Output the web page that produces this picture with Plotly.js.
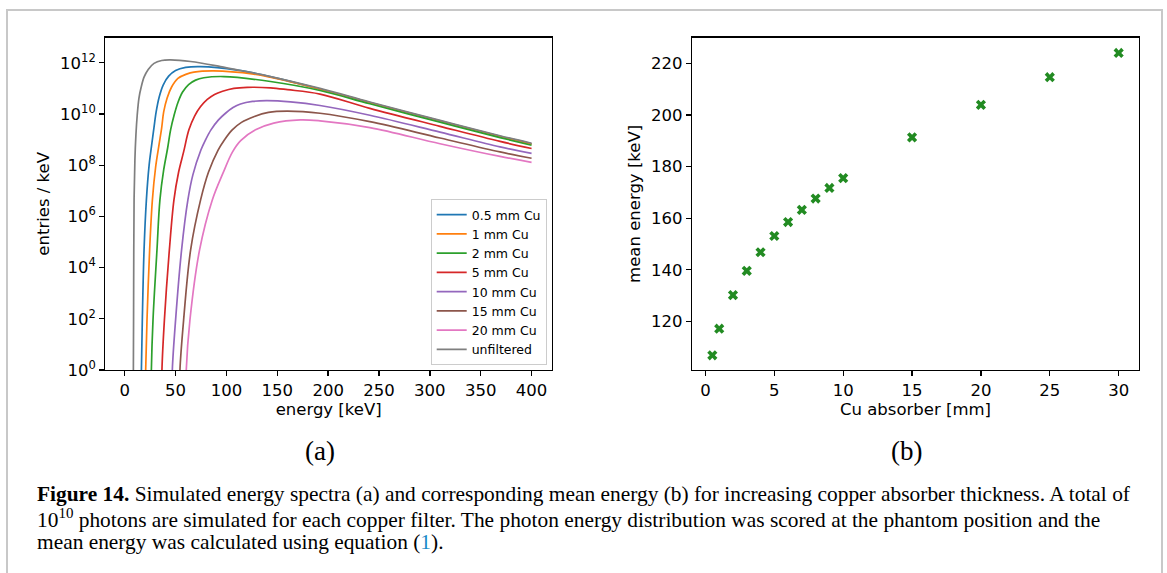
<!DOCTYPE html>
<html>
<head>
<meta charset="utf-8">
<script src="https://cdn.plot.ly/plotly-3.0.1.min.js"></script>
<style>
  html, body { margin: 0; padding: 0; background: #ffffff; }
  #chart { width: 1167px; height: 573px; }
</style>
</head>
<body>
<div id="chart"></div>
<script>
// ---------- Panel (a): simulated spectra (entries / keV vs energy [keV]) ----------
const seriesNames = ['0.5 mm Cu', '1 mm Cu', '2 mm Cu', '5 mm Cu', '10 mm Cu', '15 mm Cu', '20 mm Cu', 'unfiltered'];
const seriesColors = ['#1f77b4', '#ff7f0e', '#2ca02c', '#d62728', '#9467bd', '#8c564b', '#e377c2', '#7f7f7f'];

const energy_05mm = [16.2, 16.4, 17.3, 19.0, 21.3, 24.0, 26.5, 28.7, 30.9, 33.9, 37.8, 43.2, 50.0, 59.9, 74.6, 110.6, 143, 192, 241, 310, 369, 400];
const entries_05mm = [1e-1, 1, 89, 4.9e4, 4.4e6, 1.0e8, 6.2e8, 2.8e9, 1.2e10, 4.6e10, 1.35e11, 3.0e11, 5.0e11, 6.6e11, 7.1e11, 5.2e11, 2.9e11, 9.5e10, 2.8e10, 5.4e9, 1.35e9, 6.9e8];

const energy_1mm = [20.4, 20.6, 21.9, 24.5, 27.2, 30.4, 33.7, 36.3, 38.3, 41.7, 46.1, 52.3, 60.8, 68.0, 87.6, 126.9, 143, 192, 241, 310, 369, 400];
const entries_1mm = [1e-1, 1, 89, 4.9e4, 4.4e6, 8.5e7, 6.2e8, 2.8e9, 1.2e10, 4.2e10, 1.13e11, 2.45e11, 3.6e11, 4.3e11, 4.8e11, 3.6e11, 2.75e11, 9.3e10, 2.75e10, 5.2e9, 1.29e9, 6.6e8];

const energy_2mm = [26.0, 26.2, 27.8, 31.7, 34.6, 38.3, 42.2, 45.1, 48.6, 52.5, 56.9, 62.8, 69.7, 77.8, 97.5, 143.3, 192, 241, 310, 369, 400];
const entries_2mm = [1e-1, 1, 89, 4.9e4, 4.4e6, 6.5e7, 4.7e8, 2.4e9, 9.1e9, 2.95e10, 7.2e10, 1.41e11, 2.1e11, 2.6e11, 2.9e11, 1.86e11, 8.3e10, 2.5e10, 4.8e9, 1.2e9, 6.0e8];

const energy_5mm = [36.4, 36.6, 39.0, 43.9, 48.4, 53.0, 57.9, 63.1, 68.7, 74.6, 81.2, 88.3, 96.2, 107.3, 120.4, 143.3, 160, 192, 241, 310, 369, 400];
const entries_5mm = [1e-1, 1, 89, 4.9e4, 4.4e6, 5.4e7, 3.3e8, 2.4e9, 8.3e9, 1.95e10, 3.7e10, 5.8e10, 7.7e10, 1.0e11, 1.1e11, 1.05e11, 8.9e10, 6.0e10, 1.66e10, 3.3e9, 8.5e8, 4.5e8];

const energy_10mm = [46.6, 46.8, 50.0, 55.9, 62.1, 67.0, 74.9, 79.3, 84.8, 92.2, 99.1, 106.5, 113.8, 125.6, 140.0, 163, 192, 241, 310, 369, 400];
const entries_10mm = [1e-1, 1, 89, 4.9e4, 4.4e6, 4.2e7, 3.9e8, 9.5e8, 2.4e9, 5.9e9, 1.07e10, 1.78e10, 2.45e10, 3.1e10, 3.3e10, 2.95e10, 2.14e10, 8.9e9, 1.95e9, 5.2e8, 2.9e8];

const energy_15mm = [54.1, 54.3, 57.9, 64.8, 74.6, 82.4, 91.8, 97.8, 105.7, 114.8, 126.9, 141.3, 159.7, 192, 241, 310, 369, 400];
const entries_15mm = [1e-1, 1, 89, 4.9e4, 4.4e6, 5.4e7, 3.9e8, 9.5e8, 2.4e9, 4.7e9, 7.8e9, 1.15e10, 1.29e10, 1.07e10, 5.0e9, 1.15e9, 3.3e8, 1.86e8];

const energy_20mm = [60.3, 60.5, 64.1, 73.6, 86.1, 96.7, 106.0, 114.0, 128.6, 146.5, 172.7, 192, 241, 310, 369, 400];
const entries_20mm = [1e-1, 1, 89, 4.9e4, 4.4e6, 5.0e7, 3.3e8, 9.1e8, 2.4e9, 4.4e9, 5.9e9, 5.4e9, 2.95e9, 6.9e8, 2.2e8, 1.29e8];

const energy_unfiltered = [8.3, 8.5, 8.7, 8.9, 9.2, 10.0, 11.0, 12.3, 14.0, 16.2, 19.1, 23.1, 28.8, 36.3, 45.1, 64.8, 94.2, 113.8, 143.3, 192, 241, 310, 369, 400];
const entries_unfiltered = [1e-1, 1, 89, 4.9e4, 4.4e6, 1.6e8, 1.5e9, 9.1e9, 4.2e10, 1.13e11, 2.8e11, 5.5e11, 9.5e11, 1.23e12, 1.29e12, 1.12e12, 7.1e11, 5.0e11, 2.9e11, 1.0e11, 2.95e10, 5.6e9, 1.41e9, 7.2e8];

const energyTicks = [0, 50, 100, 150, 200, 250, 300, 350, 400];
const entriesTickVals = [1, 1e2, 1e4, 1e6, 1e8, 1e10, 1e12];
const entriesTickText = ['10<sup>0</sup>', '10<sup>2</sup>', '10<sup>4</sup>', '10<sup>6</sup>', '10<sup>8</sup>', '10<sup>10</sup>', '10<sup>12</sup>'];

// ---------- Panel (b): mean energy vs Cu thickness ----------
const cuThickness = [0.5, 1, 2, 3, 4, 5, 6, 7, 8, 9, 10, 15, 20, 25, 30];
const meanEnergy = [106.9, 117.2, 130.2, 139.6, 146.8, 153.1, 158.5, 163.2, 167.6, 171.7, 175.5, 191.3, 203.9, 214.6, 224.0];
const cuTicks = [0, 5, 10, 15, 20, 25, 30];
const meanTicks = [120, 140, 160, 180, 200, 220];

const spectraX = [energy_05mm, energy_1mm, energy_2mm, energy_5mm, energy_10mm, energy_15mm, energy_20mm, energy_unfiltered];
const spectraY = [entries_05mm, entries_1mm, entries_2mm, entries_5mm, entries_10mm, entries_15mm, entries_20mm, entries_unfiltered];

const W = 1167, H = 573;
const px = x => x / W;
const py = y => 1 - y / H;

const FONT = 'DejaVu Sans, sans-serif';
const SERIF = 'Liberation Serif, DejaVu Serif, serif';

const traces = [];
for (let i = 0; i < seriesNames.length; i++) {
  traces.push({
    type: 'scatter', mode: 'lines',
    x: spectraX[i], y: spectraY[i],
    name: seriesNames[i],
    line: { color: seriesColors[i], width: 1.7, shape: 'spline', smoothing: 1.0 },
    xaxis: 'x', yaxis: 'y', showlegend: true
  });
}
traces.push({
  type: 'scatter', mode: 'markers',
  x: cuThickness, y: meanEnergy,
  marker: { symbol: 'x', size: 9, color: '#228b22', line: { width: 0 } },
  xaxis: 'x2', yaxis: 'y2', showlegend: false
});

const axisCommon = {
  showline: true, mirror: true, linecolor: '#000', linewidth: 1.3,
  ticks: 'outside', ticklen: 5, tickwidth: 1.3, tickcolor: '#000',
  showgrid: false, zeroline: false,
  tickfont: { family: FONT, size: 16.5, color: '#000' },
  automargin: false
};

const layout = {
  width: W, height: H,
  margin: { l: 0, r: 0, t: 0, b: 0 },
  paper_bgcolor: '#fff', plot_bgcolor: '#fff',
  showlegend: true,
  font: { family: FONT, color: '#000' },
  xaxis: Object.assign({}, axisCommon, {
    domain: [px(105.4), px(551.9)], anchor: 'y',
    range: [-19, 420], tickvals: energyTicks,
    title: { text: 'energy [keV]', font: { family: FONT, size: 16.5 }, standoff: 4 }
  }),
  yaxis: Object.assign({}, axisCommon, {
    domain: [py(370), py(37.7)], anchor: 'x',
    type: 'log', range: [0, 12.98],
    tickvals: entriesTickVals, ticktext: entriesTickText,
    title: { text: 'entries / keV', font: { family: FONT, size: 16.5 }, standoff: 6 }
  }),
  xaxis2: Object.assign({}, axisCommon, {
    domain: [px(692), px(1139)], anchor: 'y2',
    range: [-0.975, 31.475], tickvals: cuTicks,
    title: { text: 'Cu absorber [mm]', font: { family: FONT, size: 16.5 }, standoff: 4 }
  }),
  yaxis2: Object.assign({}, axisCommon, {
    domain: [py(370), py(37.7)], anchor: 'x2',
    range: [101.2, 229.9], tickvals: meanTicks,
    title: { text: 'mean energy [keV]', font: { family: FONT, size: 16.5 }, standoff: 6 }
  }),
  legend: {
    x: px(546.7), xanchor: 'right', y: py(365), yanchor: 'bottom',
    bgcolor: 'rgba(255,255,255,0.8)', bordercolor: '#cccccc', borderwidth: 1,
    font: { family: FONT, size: 12.5, color: '#000' },
    itemwidth: 30, tracegroupgap: 0
  },
  shapes: [
    { type: 'rect', xref: 'paper', yref: 'paper', x0: px(7), x1: px(1162), y0: -0.2, y1: py(10),
      line: { color: '#c8c8c8', width: 2 }, fillcolor: 'rgba(0,0,0,0)', layer: 'below' }
  ],
  annotations: [
    { xref: 'paper', yref: 'paper', x: px(320), y: py(451), xanchor: 'center', yanchor: 'middle',
      text: '(a)', showarrow: false, font: { family: SERIF, size: 27, color: '#000' } },
    { xref: 'paper', yref: 'paper', x: px(907), y: py(451), xanchor: 'center', yanchor: 'middle',
      text: '(b)', showarrow: false, font: { family: SERIF, size: 27, color: '#000' } },
    { xref: 'paper', yref: 'paper', x: px(35), y: py(494), xanchor: 'left', yanchor: 'middle', align: 'left',
      text: '<b>Figure 14.</b> Simulated energy spectra (a) and corresponding mean energy (b) for increasing copper absorber thickness. A total of',
      showarrow: false, font: { family: SERIF, size: 21.4, color: '#000' } },
    { xref: 'paper', yref: 'paper', x: px(35), y: py(518), xanchor: 'left', yanchor: 'middle', align: 'left',
      text: '10<sup>10</sup> photons are simulated for each copper filter. The photon energy distribution was scored at the phantom position and the',
      showarrow: false, font: { family: SERIF, size: 21.4, color: '#000' } },
    { xref: 'paper', yref: 'paper', x: px(35), y: py(542), xanchor: 'left', yanchor: 'middle', align: 'left',
      text: 'mean energy was calculated using equation (<span style="color:#1a8bc8">1</span>).',
      showarrow: false, font: { family: SERIF, size: 21.4, color: '#000' } }
  ]
};

Plotly.newPlot('chart', traces, layout, { staticPlot: true, displayModeBar: false });
</script>
</body>
</html>
